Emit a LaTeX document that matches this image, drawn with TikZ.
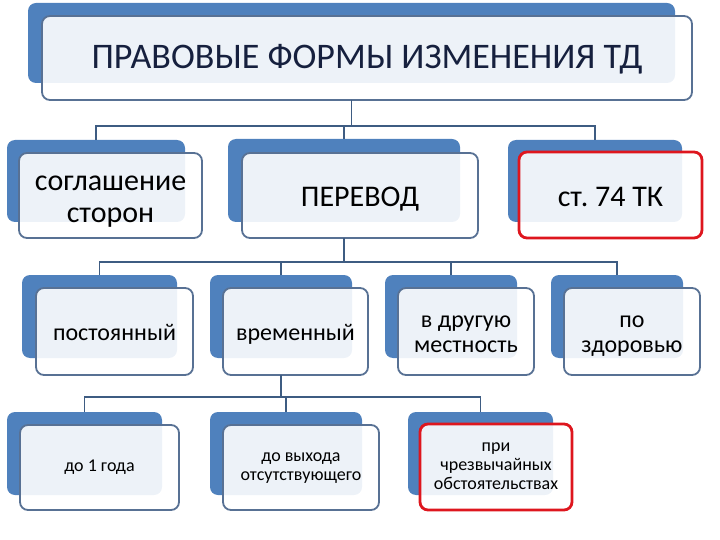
\documentclass[tikz,border=0pt]{standalone}
\usepackage{fontspec}
\setmainfont{Carlito}
\frenchspacing
\newcommand{\mytopstrut}[1]{\rule{0pt}{#1\baselineskip}}
\definecolor{accblue}{RGB}{79,129,189}
\definecolor{frameblue}{RGB}{88,113,148}
\definecolor{linkblue}{RGB}{62,92,130}
\definecolor{alertred}{RGB}{222,22,30}
\definecolor{titlenavy}{RGB}{22,32,62}
\begin{document}
\begin{tikzpicture}[x=1pt,y=-1pt,
  back/.style={fill=accblue, rounded corners=8pt, anchor=north west, inner sep=0pt, outer sep=0pt},
  front/.style={fill=white, fill opacity=0.9, text opacity=1, draw=frameblue, line width=1.8pt,
    rounded corners=8pt, anchor=north west, inner sep=0pt, outer sep=0pt, align=center},
  alert/.style={draw=alertred, line width=2.8pt},
  link/.style={draw=linkblue, line width=1.8pt},
  ftitle/.style={font=\fontsize{36}{40}\selectfont, text=titlenavy},
  fbig/.style={font=\fontsize{30}{32}\selectfont},
  fmid/.style={font=\fontsize{24}{25}\selectfont},
  fsmall/.style={font=\fontsize{18}{19}\selectfont}]
\useasboundingbox (0,0) rectangle (720,540);

% ---- top
\node[back, minimum width=647pt, minimum height=80pt] (tb) at (28,3) {};
\node[front, ftitle, minimum width=650pt, minimum height=84pt] (tf) at (42,16) {\mytopstrut{0.85}\strut ПРАВОВЫЕ ФОРМЫ ИЗМЕНЕНИЯ ТД};

% ---- level 2
\node[back, minimum width=178pt, minimum height=82pt] (ab) at (7,140) {};
\node[front, fbig, minimum width=183pt, minimum height=85pt] (af) at (19,153) {\mytopstrut{1.0}соглашение\\сторон\strut};
\node[back, minimum width=232pt, minimum height=83pt] (bb) at (228,139) {};
\node[front, fbig, minimum width=236pt, minimum height=85pt] (bf) at (242,153) {\mytopstrut{1.0}\strut ПЕРЕВОД};
\node[back, minimum width=174pt, minimum height=82pt] (cb) at (508,140) {};
\node[front, alert, fbig, minimum width=183pt, minimum height=86pt] (cf) at (519,152) {\mytopstrut{1.0}\strut ст. 74 ТК};

% ---- level 3
\node[back, minimum width=155pt, minimum height=83pt] (db) at (22,275) {};
\node[front, fmid, minimum width=157pt, minimum height=87pt] (df) at (36,288) {\mytopstrut{1.0}\strut постоянный};
\node[back, minimum width=142pt, minimum height=83pt] (eb) at (210,275) {};
\node[front, fmid, minimum width=145pt, minimum height=87pt] (ef) at (223,288) {\mytopstrut{1.0}\strut временный};
\node[back, minimum width=132pt, minimum height=83pt] (gb) at (385,275) {};
\node[front, fmid, minimum width=136pt, minimum height=87pt] (gf) at (398,288) {\mytopstrut{1.0}в другую\\местность\strut};
\node[back, minimum width=132pt, minimum height=83pt] (hb) at (551,275) {};
\node[front, fmid, minimum width=136pt, minimum height=87pt] (hf) at (564,288) {\mytopstrut{1.0}по\\здоровью\strut};

% ---- level 4
\node[back, minimum width=155pt, minimum height=83pt] (kb) at (7,412) {};
\node[front, fsmall, minimum width=159pt, minimum height=85pt] (kf) at (20,425) {\strut до 1 года};
\node[back, minimum width=152pt, minimum height=83pt] (mb) at (210,412) {};
\node[front, fsmall, minimum width=156pt, minimum height=85pt] (mf) at (223,425) {\strut до выхода\\отсутствующего\strut};
\node[back, minimum width=145pt, minimum height=83pt] (nb) at (408,412) {};
\node[front, alert, fsmall, minimum width=152pt, minimum height=86pt] (nf) at (420,424) {\strut при\\чрезвычайных\\обстоятельствах\strut};

% ---- connectors
\draw[link] (tb |- tf.south) -- (tb |- 0,126) coordinate (j1);
\draw[link] (j1) -| (ab.north);
\draw[link] (j1) -| (bb.north);
\draw[link] (j1) -| (cb.north);

\draw[link] (bb |- bf.south) -- (bb |- 0,262) coordinate (j2);
\draw[link] (j2) -| (db.north);
\draw[link] (j2) -| (eb.north);
\draw[link] (j2) -| (gb.north);
\draw[link] (j2) -| (hb.north);

\draw[link] (eb |- ef.south) -- (eb |- 0,397) coordinate (j3);
\draw[link] (j3) -| (kb.north);
\draw[link] (j3) -| (mb.north);
\draw[link] (j3) -| (nb.north);
\end{tikzpicture}
\end{document}
